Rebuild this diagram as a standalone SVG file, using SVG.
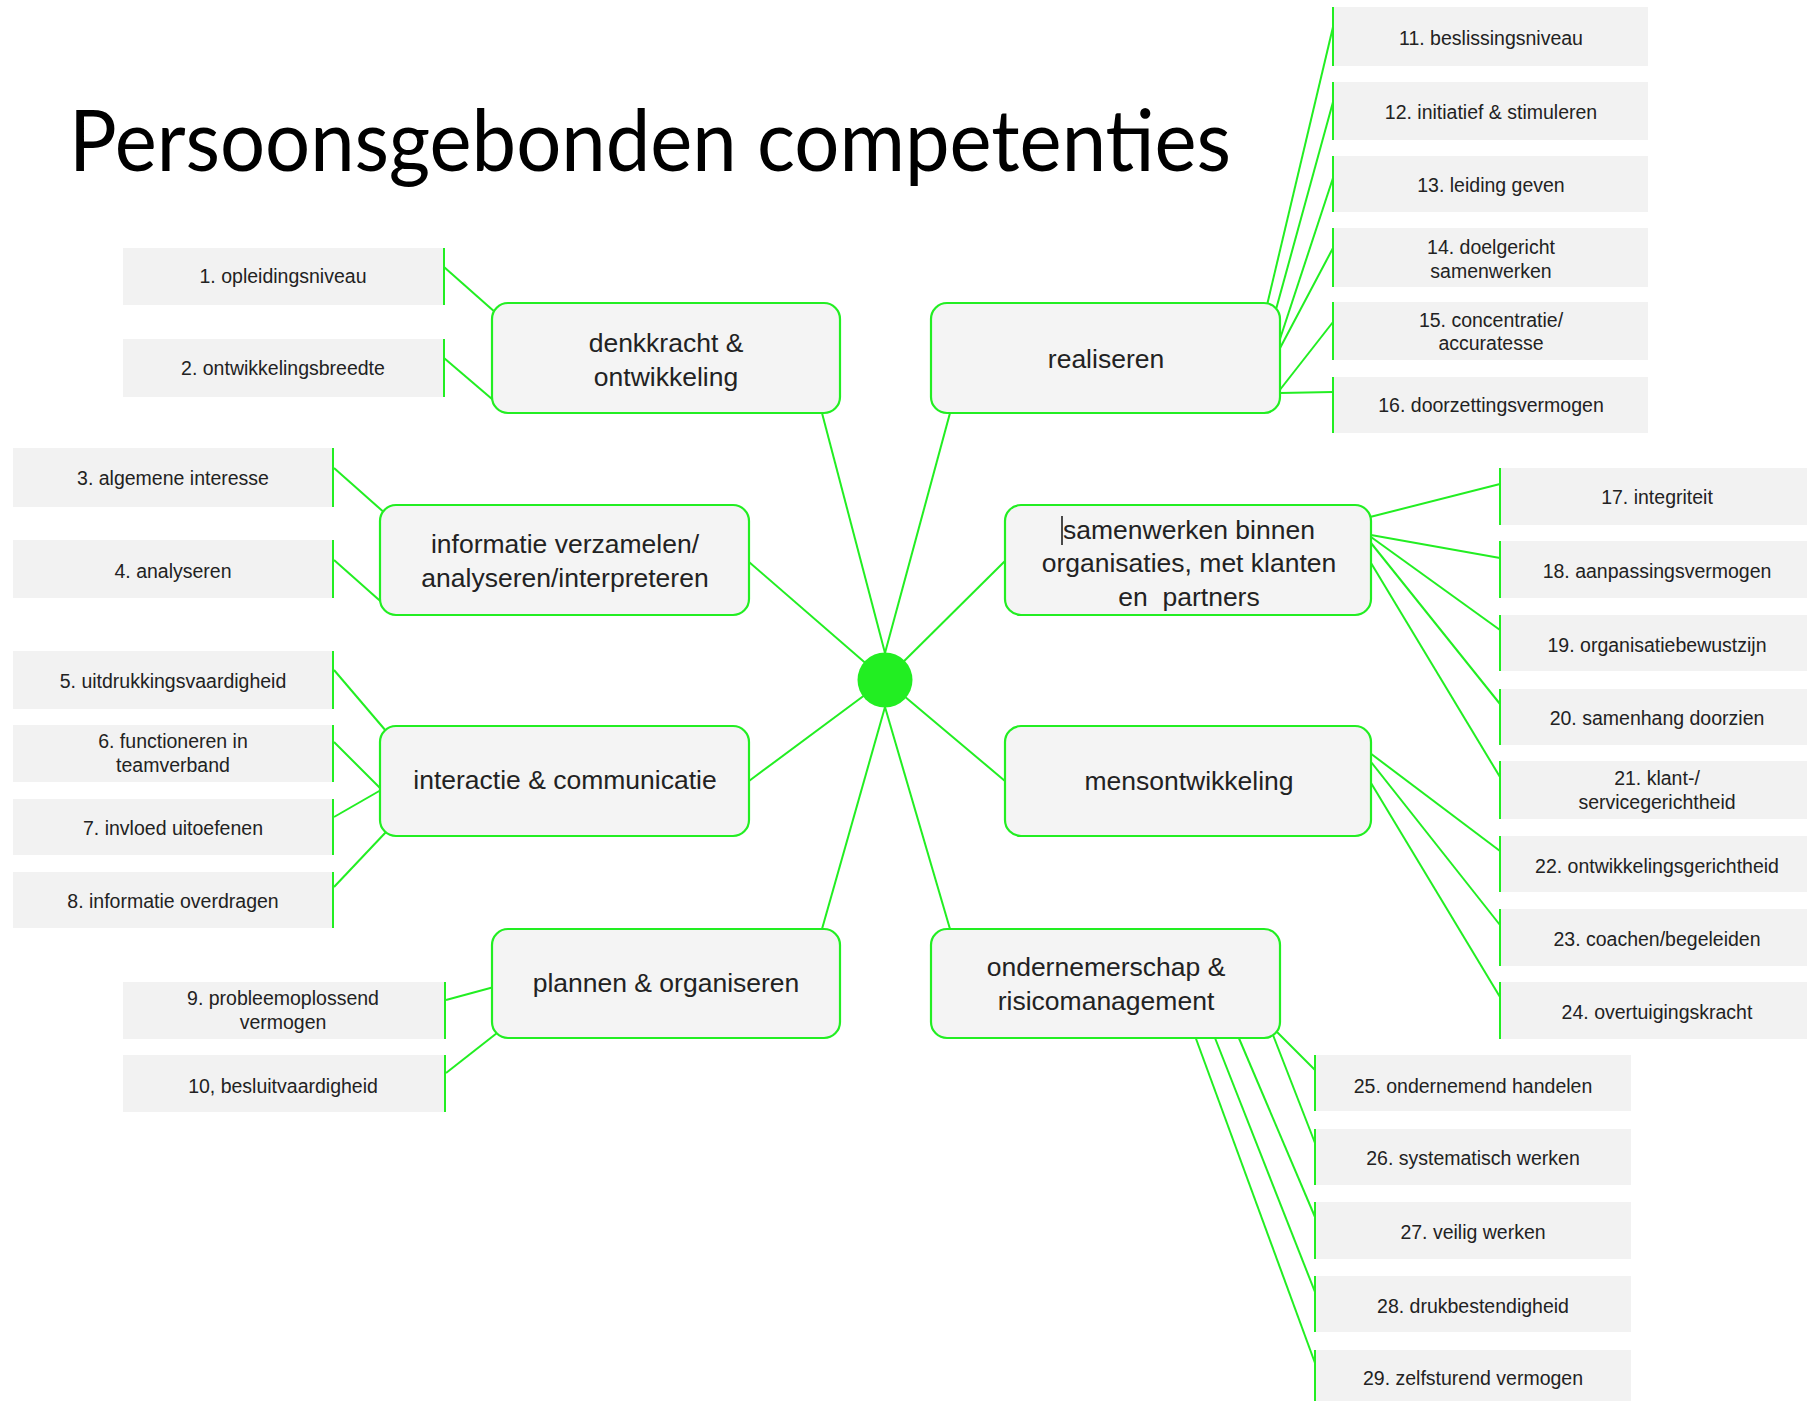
<svg xmlns="http://www.w3.org/2000/svg" width="1807" height="1401" viewBox="0 0 1807 1401">
<style>
.cat rect{fill:#f4f4f4;stroke:#22ee22;stroke-width:2.2}
.cat text{font-family:"Liberation Sans",Arial,sans-serif;font-size:26.5px;fill:#222;text-anchor:middle}
.leaf rect{fill:#f2f2f2}
.leaf line{stroke:#22ee22;stroke-width:2}
.leaf text{font-family:"Liberation Sans",Arial,sans-serif;font-size:19.5px;fill:#222;text-anchor:middle}
#connectors line{stroke:#22ee22;stroke-width:2;fill:none}
.title{font-family:Lato,"Open Sans",sans-serif;font-size:86px;fill:#000}
</style>
<rect width="1807" height="1401" fill="#fff"/>
<text class="title" x="69" y="171" textLength="1162" lengthAdjust="spacingAndGlyphs">Persoonsgebonden competenties</text>

<g id="connectors">
<line x1="822" y1="413" x2="885" y2="653"/>
<line x1="950" y1="413" x2="885" y2="653"/>
<line x1="749" y1="562" x2="885" y2="680"/>
<line x1="1005" y1="561" x2="885" y2="680"/>
<line x1="749" y1="781" x2="885" y2="680"/>
<line x1="1005" y1="781" x2="885" y2="680"/>
<line x1="822" y1="929" x2="885" y2="707"/>
<line x1="950" y1="929" x2="885" y2="707"/>
<line x1="444" y1="267" x2="496" y2="313"/>
<line x1="444" y1="358" x2="499" y2="405"/>
<line x1="334" y1="468" x2="387" y2="515"/>
<line x1="334" y1="560" x2="387" y2="607"/>
<line x1="334" y1="670" x2="386" y2="731"/>
<line x1="334" y1="742" x2="381" y2="789"/>
<line x1="334" y1="817" x2="381" y2="790"/>
<line x1="334" y1="887" x2="386" y2="832"/>
<line x1="446" y1="1000" x2="494" y2="987"/>
<line x1="446" y1="1073" x2="497" y2="1033"/>
<line x1="1333" y1="27" x2="1263" y2="322"/>
<line x1="1333" y1="102" x2="1272" y2="324"/>
<line x1="1333" y1="178" x2="1278" y2="345"/>
<line x1="1333" y1="248" x2="1279" y2="350"/>
<line x1="1333" y1="322" x2="1279" y2="391"/>
<line x1="1280" y1="393" x2="1333" y2="392"/>
<line x1="1370" y1="517" x2="1500" y2="484"/>
<line x1="1371" y1="535" x2="1500" y2="558"/>
<line x1="1371" y1="537" x2="1500" y2="630"/>
<line x1="1371" y1="543" x2="1500" y2="704"/>
<line x1="1371" y1="563" x2="1500" y2="777"/>
<line x1="1370" y1="753" x2="1500" y2="851"/>
<line x1="1371" y1="762" x2="1500" y2="925"/>
<line x1="1371" y1="783" x2="1500" y2="997"/>
<line x1="1276" y1="1031" x2="1315" y2="1070"/>
<line x1="1273" y1="1035" x2="1315" y2="1143"/>
<line x1="1238" y1="1036" x2="1315" y2="1217"/>
<line x1="1215" y1="1038" x2="1315" y2="1292"/>
<line x1="1195" y1="1036" x2="1315" y2="1363"/>
</g>

<g id="center"><circle cx="885" cy="680" r="27.5" fill="#22ee22"/></g>

<g id="cat-denkkracht" class="cat"><rect x="492" y="303" width="348" height="110" rx="16"/><text x="666" y="352">denkkracht &amp;</text><text x="666" y="386">ontwikkeling</text></g>
<g id="cat-realiseren" class="cat"><rect x="931" y="303" width="349" height="110" rx="16"/><text x="1106" y="368">realiseren</text></g>
<g id="cat-informatie" class="cat"><rect x="380" y="505" width="369" height="110" rx="16"/><text x="565" y="553">informatie verzamelen/</text><text x="565" y="587">analyseren/interpreteren</text></g>
<g id="cat-samenwerken" class="cat"><rect x="1005" y="505" width="366" height="110" rx="16"/><text x="1189" y="539">samenwerken binnen</text><text x="1189" y="572">organisaties, met klanten</text><text x="1189" y="606" xml:space="preserve">en  partners</text><line x1="1062" y1="516" x2="1062" y2="545" stroke="#111" stroke-width="1.5"/></g>
<g id="cat-interactie" class="cat"><rect x="380" y="726" width="369" height="110" rx="16"/><text x="565" y="789">interactie &amp; communicatie</text></g>
<g id="cat-mensontwikkeling" class="cat"><rect x="1005" y="726" width="366" height="110" rx="16"/><text x="1189" y="790">mensontwikkeling</text></g>
<g id="cat-plannen" class="cat"><rect x="492" y="929" width="348" height="109" rx="16"/><text x="666" y="992">plannen &amp; organiseren</text></g>
<g id="cat-ondernemerschap" class="cat"><rect x="931" y="929" width="349" height="109" rx="16"/><text x="1106" y="976">ondernemerschap &amp;</text><text x="1106" y="1010">risicomanagement</text></g>

<g id="leaf-1" class="leaf"><rect x="123" y="248" width="321" height="57"/><line x1="444" y1="248" x2="444" y2="305"/><text x="283" y="283">1. opleidingsniveau</text></g>
<g id="leaf-2" class="leaf"><rect x="123" y="339" width="321" height="58"/><line x1="444" y1="339" x2="444" y2="397"/><text x="283" y="375">2. ontwikkelingsbreedte</text></g>
<g id="leaf-3" class="leaf"><rect x="13" y="448" width="320" height="59"/><line x1="333" y1="448" x2="333" y2="507"/><text x="173" y="485">3. algemene interesse</text></g>
<g id="leaf-4" class="leaf"><rect x="13" y="540" width="320" height="58"/><line x1="333" y1="540" x2="333" y2="598"/><text x="173" y="578">4. analyseren</text></g>
<g id="leaf-5" class="leaf"><rect x="13" y="651" width="320" height="58"/><line x1="333" y1="651" x2="333" y2="709"/><text x="173" y="688">5. uitdrukkingsvaardigheid</text></g>
<g id="leaf-6" class="leaf"><rect x="13" y="725" width="320" height="57"/><line x1="333" y1="725" x2="333" y2="782"/><text x="173" y="748">6. functioneren in</text><text x="173" y="772">teamverband</text></g>
<g id="leaf-7" class="leaf"><rect x="13" y="799" width="320" height="56"/><line x1="333" y1="799" x2="333" y2="855"/><text x="173" y="835">7. invloed uitoefenen</text></g>
<g id="leaf-8" class="leaf"><rect x="13" y="872" width="320" height="56"/><line x1="333" y1="872" x2="333" y2="928"/><text x="173" y="908">8. informatie overdragen</text></g>
<g id="leaf-9" class="leaf"><rect x="123" y="982" width="322" height="57"/><line x1="445" y1="982" x2="445" y2="1039"/><text x="283" y="1005">9. probleemoplossend</text><text x="283" y="1029">vermogen</text></g>
<g id="leaf-10" class="leaf"><rect x="123" y="1055" width="322" height="57"/><line x1="445" y1="1055" x2="445" y2="1112"/><text x="283" y="1093">10, besluitvaardigheid</text></g>

<g id="leaf-11" class="leaf"><rect x="1333" y="7" width="315" height="59"/><line x1="1333" y1="7" x2="1333" y2="66"/><text x="1491" y="45">11. beslissingsniveau</text></g>
<g id="leaf-12" class="leaf"><rect x="1333" y="82" width="315" height="58"/><line x1="1333" y1="82" x2="1333" y2="140"/><text x="1491" y="119">12. initiatief &amp; stimuleren</text></g>
<g id="leaf-13" class="leaf"><rect x="1333" y="156" width="315" height="56"/><line x1="1333" y1="156" x2="1333" y2="212"/><text x="1491" y="192">13. leiding geven</text></g>
<g id="leaf-14" class="leaf"><rect x="1333" y="228" width="315" height="59"/><line x1="1333" y1="228" x2="1333" y2="287"/><text x="1491" y="254">14. doelgericht</text><text x="1491" y="278">samenwerken</text></g>
<g id="leaf-15" class="leaf"><rect x="1333" y="302" width="315" height="58"/><line x1="1333" y1="302" x2="1333" y2="360"/><text x="1491" y="327">15. concentratie/</text><text x="1491" y="350">accuratesse</text></g>
<g id="leaf-16" class="leaf"><rect x="1333" y="377" width="315" height="56"/><line x1="1333" y1="377" x2="1333" y2="433"/><text x="1491" y="412">16. doorzettingsvermogen</text></g>

<g id="leaf-17" class="leaf"><rect x="1500" y="468" width="315" height="57"/><line x1="1500" y1="468" x2="1500" y2="525"/><text x="1657" y="504">17. integriteit</text></g>
<g id="leaf-18" class="leaf"><rect x="1500" y="541" width="315" height="57"/><line x1="1500" y1="541" x2="1500" y2="598"/><text x="1657" y="578">18. aanpassingsvermogen</text></g>
<g id="leaf-19" class="leaf"><rect x="1500" y="615" width="315" height="56"/><line x1="1500" y1="615" x2="1500" y2="671"/><text x="1657" y="652">19. organisatiebewustzijn</text></g>
<g id="leaf-20" class="leaf"><rect x="1500" y="689" width="315" height="56"/><line x1="1500" y1="689" x2="1500" y2="745"/><text x="1657" y="725">20. samenhang doorzien</text></g>
<g id="leaf-21" class="leaf"><rect x="1500" y="761" width="315" height="58"/><line x1="1500" y1="761" x2="1500" y2="819"/><text x="1657" y="785">21. klant-/</text><text x="1657" y="809">servicegerichtheid</text></g>
<g id="leaf-22" class="leaf"><rect x="1500" y="836" width="315" height="56"/><line x1="1500" y1="836" x2="1500" y2="892"/><text x="1657" y="873">22. ontwikkelingsgerichtheid</text></g>
<g id="leaf-23" class="leaf"><rect x="1500" y="909" width="315" height="57"/><line x1="1500" y1="909" x2="1500" y2="966"/><text x="1657" y="946">23. coachen/begeleiden</text></g>
<g id="leaf-24" class="leaf"><rect x="1500" y="982" width="315" height="57"/><line x1="1500" y1="982" x2="1500" y2="1039"/><text x="1657" y="1019">24. overtuigingskracht</text></g>

<g id="leaf-25" class="leaf"><rect x="1315" y="1055" width="316" height="56"/><line x1="1315" y1="1055" x2="1315" y2="1111"/><text x="1473" y="1093">25. ondernemend handelen</text></g>
<g id="leaf-26" class="leaf"><rect x="1315" y="1129" width="316" height="56"/><line x1="1315" y1="1129" x2="1315" y2="1185"/><text x="1473" y="1165">26. systematisch werken</text></g>
<g id="leaf-27" class="leaf"><rect x="1315" y="1202" width="316" height="57"/><line x1="1315" y1="1202" x2="1315" y2="1259"/><text x="1473" y="1239">27. veilig werken</text></g>
<g id="leaf-28" class="leaf"><rect x="1315" y="1276" width="316" height="56"/><line x1="1315" y1="1276" x2="1315" y2="1332"/><text x="1473" y="1313">28. drukbestendigheid</text></g>
<g id="leaf-29" class="leaf"><rect x="1315" y="1350" width="316" height="60"/><line x1="1315" y1="1350" x2="1315" y2="1401"/><text x="1473" y="1385">29. zelfsturend vermogen</text></g>
</svg>
